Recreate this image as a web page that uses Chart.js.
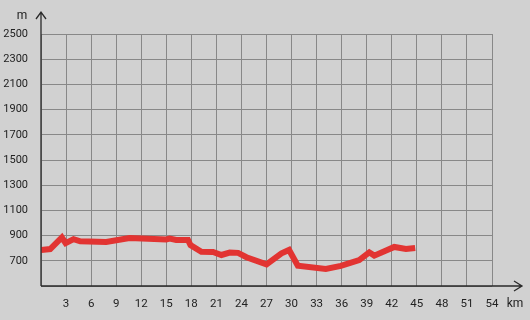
<!DOCTYPE html>
<html>
<head>
<meta charset="utf-8">
<script src="https://cdn.jsdelivr.net/npm/chart.js@4/dist/chart.umd.min.js"></script>
<style>
  html, body { margin: 0; padding: 0; background: #d1d1d1; }
  canvas { display: block; }
</style>
</head>
<body>
<canvas id="perfil" width="530" height="320"></canvas>
<script>
// Perfil de elevacion: distancia (km) y altura (m)
var distancia = [0, 1.1, 2.5, 2.95, 3.9, 4.7, 7.8, 10.6, 15.0, 15.4, 16.2, 17.6, 17.9, 19.2, 20.6, 21.6, 22.6, 23.6, 24.6, 27.0, 28.8, 29.7, 30.75, 34.1, 35.9, 38.1, 39.3, 39.9, 42.3, 43.7, 44.8];
var altura = [785, 793, 885, 840, 872, 855, 850, 880, 870, 876, 866, 865, 825, 772, 770, 746, 765, 763, 728, 672, 759, 786, 661, 635, 659, 706, 767, 741, 810, 794, 802];

var ticksY = [700, 900, 1100, 1300, 1500, 1700, 1900, 2100, 2300, 2500];
var ticksX = [3, 6, 9, 12, 15, 18, 21, 24, 27, 30, 33, 36, 39, 42, 45, 48, 51, 54];

var puntos = distancia.map(function(d, i) { return { x: d, y: altura[i] }; });

// Flechas de los ejes y unidades
var ejesPlugin = {
    id: 'ejes',
    afterDraw: function(chart) {
        var ctx = chart.ctx;
        var area = chart.chartArea;
        ctx.save();
        ctx.strokeStyle = '#2a2a2a';
        ctx.lineWidth = 1.3;
        ctx.beginPath();
        ctx.moveTo(area.left, area.bottom);
        ctx.lineTo(area.left, 12);
        ctx.moveTo(area.left - 5, 19);
        ctx.lineTo(area.left, 12);
        ctx.lineTo(area.left + 5, 19);
        ctx.moveTo(area.left, area.bottom);
        ctx.lineTo(522, area.bottom);
        ctx.moveTo(514, area.bottom - 5);
        ctx.lineTo(522, area.bottom);
        ctx.lineTo(514, area.bottom + 5);
        ctx.stroke();

        ctx.fillStyle = '#222';
        ctx.font = '12px Roboto';
        ctx.textAlign = 'center';
        ctx.textBaseline = 'middle';
        ctx.fillText('m', 22, 16);
        ctx.fillText('km', 515, 304);
        ctx.restore();
    }
};

new Chart(document.getElementById('perfil'), {
    type: 'line',
    data: {
        datasets: [{
            data: puntos,
            borderColor: 'rgb(226, 52, 50)',
            borderWidth: 6,
            pointRadius: 0,
            tension: 0,
            fill: false
        }]
    },
    options: {
        responsive: false,
        animation: false,
        layout: { padding: { top: 34, right: 38, left: 0, bottom: 0 } },
        plugins: {
            legend: { display: false },
            tooltip: { enabled: false }
        },
        scales: {
            x: {
                type: 'linear',
                min: 0,
                max: 54,
                afterBuildTicks: function(axis) {
                    axis.ticks = [0].concat(ticksX).map(function(v) { return { value: v }; });
                },
                afterFit: function(axis) { axis.height = 34; },
                border: { display: false },
                grid: { color: '#888', lineWidth: 1, drawTicks: false },
                ticks: {
                    padding: 11,
                    color: '#222',
                    font: { family: 'Roboto', size: 11.5 },
                    maxRotation: 0,
                    autoSkip: false,
                    callback: function(v) { return v === 0 ? '' : v; }
                }
            },
            y: {
                min: 500,
                max: 2500,
                afterBuildTicks: function(axis) {
                    axis.ticks = [500].concat(ticksY).map(function(v) { return { value: v }; });
                },
                afterFit: function(axis) { axis.width = 41; },
                border: { display: false },
                grid: { color: '#888', lineWidth: 1, drawTicks: false },
                ticks: {
                    padding: 13,
                    color: '#222',
                    font: { family: 'Roboto', size: 11 },
                    autoSkip: false,
                    callback: function(v) { return v === 500 ? '' : v; }
                }
            }
        }
    },
    plugins: [ejesPlugin]
});
</script>
</body>
</html>
